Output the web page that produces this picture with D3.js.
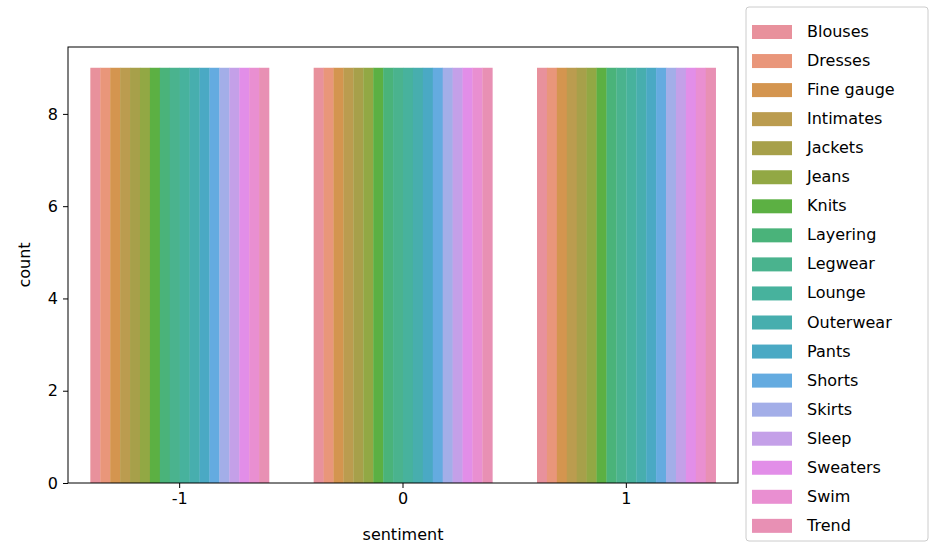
<!DOCTYPE html>
<html><head><meta charset="utf-8">
<script src="https://cdn.jsdelivr.net/npm/d3@7"></script>
<style>body{margin:0;background:#fff;font-family:"DejaVu Sans",sans-serif;}</style>
</head><body><svg id="c" width="943" height="557"></svg>
<script>
const sentiments = ["-1", "0", "1"];
const departments = ["Blouses","Dresses","Fine gauge","Intimates","Jackets","Jeans","Knits","Layering","Legwear","Lounge","Outerwear","Pants","Shorts","Skirts","Sleep","Sweaters","Swim","Trend"];
const counts = [
  [9,9,9,9,9,9,9,9,9,9,9,9,9,9,9,9,9,9],
  [9,9,9,9,9,9,9,9,9,9,9,9,9,9,9,9,9,9],
  [9,9,9,9,9,9,9,9,9,9,9,9,9,9,9,9,9,9]
];
const colors = ["#e8919c","#e9967a","#d4954f","#bb9c4f","#a7a04a","#92a844","#5cb043","#4ab37a","#4ab38e","#47b29d","#47aeae","#4aa9c4","#64abe0","#a3aee8","#c4a0e8","#e28ee8","#e98fd1","#e890b4"];
const yTicks = [0,2,4,6,8];

const svg = d3.select("#c");
const L = 68, R = 738, T = 47, B = 483;
const x = d3.scaleBand().domain(sentiments).range([L, R]).paddingInner(0.2).paddingOuter(0.1);
const xi = d3.scaleBand().domain(departments).range([0, x.bandwidth()]);
const y = d3.scaleLinear().domain([0, 9.45]).range([B, T]);

sentiments.forEach((s, si) => {
  svg.append("g").selectAll("rect").data(departments).join("rect")
    .attr("x", d => x(s) + xi(d)).attr("width", xi.bandwidth() + 0.3)
    .attr("y", (d, i) => y(counts[si][i])).attr("height", (d, i) => B - y(counts[si][i]))
    .attr("fill", (d, i) => colors[i]);
});

svg.append("rect").attr("x", L).attr("y", T).attr("width", R - L).attr("height", B - T)
  .attr("fill", "none").attr("stroke", "#000").attr("stroke-width", 1);

const xa = svg.append("g").attr("transform", `translate(0,${B})`).call(d3.axisBottom(x).tickSize(5).tickPadding(5));
const ya = svg.append("g").attr("transform", `translate(${L},0)`).call(d3.axisLeft(y).tickValues(yTicks).tickSize(5).tickPadding(5));
[xa, ya].forEach(a => { a.select(".domain").remove(); a.selectAll("text").attr("font-size", 16).attr("fill", "#000").attr("font-family", "DejaVu Sans"); });

svg.append("text").attr("x", (L + R) / 2).attr("y", 540).attr("text-anchor", "middle").attr("font-size", 16).text("sentiment");
svg.append("text").attr("transform", `translate(30,${(T + B) / 2}) rotate(-90)`).attr("text-anchor", "middle").attr("font-size", 16).text("count");

const lg = svg.append("g");
lg.append("rect").attr("x", 746).attr("y", 7).attr("width", 182).attr("height", 534).attr("rx", 3)
  .attr("fill", "#fff").attr("stroke", "#ccc");
const rows = lg.selectAll("g").data(departments).join("g").attr("transform", (d, i) => `translate(752,${31 + i * 29.05})`);
rows.append("rect").attr("x", 0).attr("y", -6).attr("width", 40).attr("height", 14).attr("fill", (d, i) => colors[i]);
rows.append("text").attr("x", 55).attr("y", 6).attr("font-size", 16).text(d => d);
</script></body></html>
